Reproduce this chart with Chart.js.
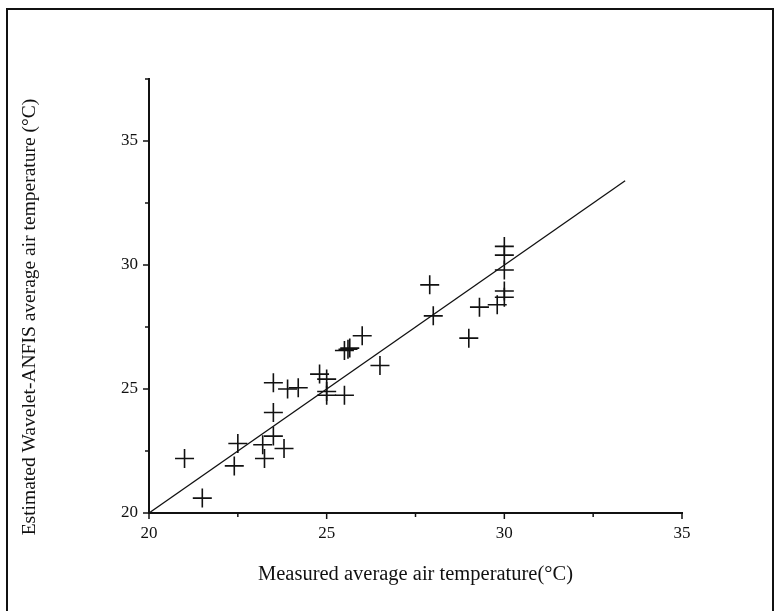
<!DOCTYPE html>
<html>
<head>
<meta charset="utf-8">
<script src="https://cdn.jsdelivr.net/npm/chart.js@4"></script>
<style>
  html, body { margin: 0; padding: 0; background: #ffffff; }
  #wrap { width: 781px; height: 611px; }
</style>
</head>
<body>
<div id="wrap"><canvas id="c" width="781" height="611"></canvas></div>
<script>
// Measured (x) vs estimated Wavelet-ANFIS (y) average air temperature, °C
const measured = [21.0, 21.5, 22.4, 22.5, 23.2, 23.25, 23.5, 23.8, 23.5, 23.5, 23.9, 24.2,
                  24.8, 25.0, 25.0, 25.0, 25.5, 25.5, 25.6, 25.65, 26.0, 26.5, 27.9, 28.0,
                  29.0, 29.3, 29.8, 30.0, 30.0, 30.0, 30.0, 30.0];
const estimated = [22.2, 20.6, 21.9, 22.8, 22.75, 22.2, 23.1, 22.6, 24.05, 25.25, 25.0, 25.05,
                   25.6, 25.4, 24.9, 24.75, 24.75, 26.55, 26.6, 26.65, 27.15, 25.95, 29.2, 27.95,
                   27.05, 28.3, 28.4, 30.75, 30.4, 29.8, 28.95, 28.7];
// 1:1 reference line
const lineX = [20, 33.4];
const lineY = [20, 33.4];
// axis ranges / labelled ticks
const xRange = [20, 35];
const yRange = [20, 37.5];
const xTickLabels = [20, 25, 30, 35];
const yTickLabels = [20, 25, 30, 35];

const xTitle = 'Measured average air temperature(\u00B0C)';
const yTitle = 'Estimated Wavelet-ANFIS average air temperature (\u00B0C)';

const ink = '#111111';
const serif = "'Liberation Serif', 'DejaVu Serif', serif";

const tickMarks = {
  id: 'tickMarks',
  afterDraw(chart) {
    const ctx = chart.ctx;
    ctx.save();
    ctx.strokeStyle = ink;
    ctx.lineWidth = 1.5;
    const xs = chart.scales.x, ys = chart.scales.y;
    xs.ticks.forEach(t => {
      const px = xs.getPixelForValue(t.value);
      const len = xTickLabels.includes(t.value) ? 6 : 4;
      ctx.beginPath();
      ctx.moveTo(px, xs.top);
      ctx.lineTo(px, xs.top + len);
      ctx.stroke();
    });
    ys.ticks.forEach(t => {
      const py = ys.getPixelForValue(t.value);
      const len = yTickLabels.includes(t.value) ? 6 : 4;
      ctx.beginPath();
      ctx.moveTo(ys.right, py);
      ctx.lineTo(ys.right - len, py);
      ctx.stroke();
    });
    // y axis title (placed a little below the axis centre, as in the reference)
    ctx.save();
    ctx.fillStyle = ink;
    ctx.font = "19.5px " + serif;
    ctx.textAlign = 'center';
    ctx.textBaseline = 'middle';
    ctx.translate(30, 317);
    ctx.rotate(-Math.PI / 2);
    ctx.fillText(yTitle, 0, 0);
    ctx.restore();
    // outer frame of the figure
    ctx.lineWidth = 2;
    ctx.beginPath();
    ctx.moveTo(7, 611);
    ctx.lineTo(7, 9);
    ctx.lineTo(773, 9);
    ctx.lineTo(773, 611);
    ctx.stroke();
    ctx.restore();
  }
};

const bg = {
  id: 'bg',
  beforeDraw(chart) {
    const ctx = chart.ctx;
    ctx.save();
    ctx.fillStyle = '#ffffff';
    ctx.fillRect(0, 0, chart.width, chart.height);
    ctx.restore();
  }
};

new Chart(document.getElementById('c'), {
  type: 'scatter',
  data: {
    datasets: [
      {
        type: 'line',
        data: lineX.map((x, i) => ({ x: x, y: lineY[i] })),
        borderColor: ink,
        borderWidth: 1.3,
        pointRadius: 0,
        fill: false,
        tension: 0
      },
      {
        type: 'scatter',
        data: measured.map((x, i) => ({ x: x, y: estimated[i] })),
        pointStyle: 'cross',
        pointRadius: 9.5,
        borderColor: ink,
        backgroundColor: ink,
        borderWidth: 1.6
      }
    ]
  },
  options: {
    responsive: false,
    animation: false,
    devicePixelRatio: 1,
    layout: { padding: { left: 0, top: 79, right: 99, bottom: 0 } },
    plugins: { legend: { display: false }, tooltip: { enabled: false } },
    scales: {
      x: {
        type: 'linear',
        min: xRange[0],
        max: xRange[1],
        afterFit(s) { s.height = 98; },
        ticks: {
          stepSize: 2.5,
          autoSkip: false,
          maxRotation: 0,
          padding: 10,
          color: ink,
          font: { family: serif, size: 17 },
          callback: v => (xTickLabels.includes(v) ? String(v) : '')
        },
        grid: { drawOnChartArea: false, drawTicks: false },
        border: { color: ink, width: 2 },
        title: {
          display: true,
          text: xTitle,
          color: ink,
          font: { family: serif, size: 20.5 },
          padding: { top: 0, bottom: 24 }
        }
      },
      y: {
        type: 'linear',
        min: yRange[0],
        max: yRange[1],
        afterFit(s) { s.width = 149; },
        ticks: {
          stepSize: 2.5,
          autoSkip: false,
          padding: 11,
          color: ink,
          font: { family: serif, size: 17 },
          callback: v => (yTickLabels.includes(v) ? String(v) : '')
        },
        grid: { drawOnChartArea: false, drawTicks: false },
        border: { color: ink, width: 2 },
        title: { display: false, text: yTitle }
      }
    }
  },
  plugins: [bg, tickMarks]
});
</script>
</body>
</html>
